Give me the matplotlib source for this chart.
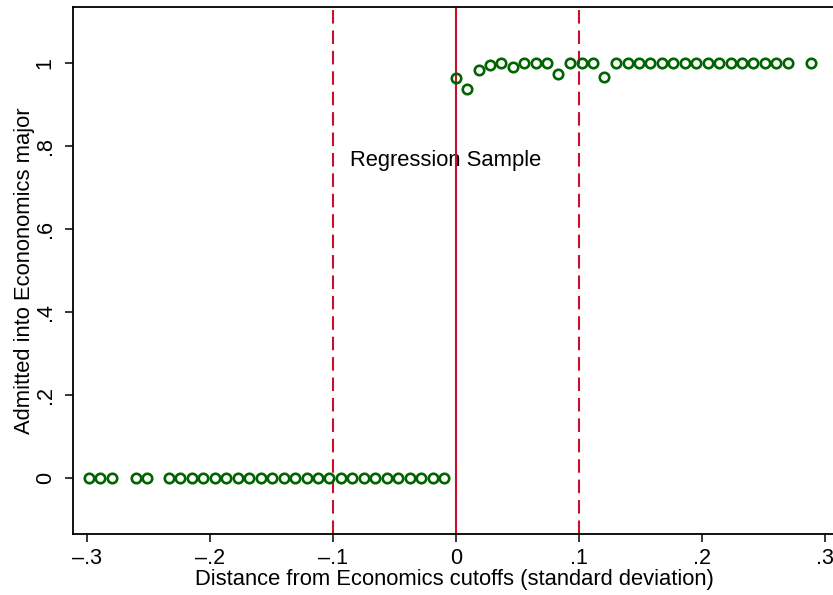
import numpy as np
import matplotlib
matplotlib.use('Agg')
import matplotlib.pyplot as plt
from matplotlib.ticker import FuncFormatter

plt.rcParams['font.family'] = ['Liberation Sans', 'DejaVu Sans']

# Binned means
x_left = [-0.2981, -0.2892, -0.2799, -0.2604, -0.2515, -0.2333, -0.2241, -0.2146,
          -0.2054, -0.1962, -0.1867, -0.1775, -0.1680, -0.1588, -0.1496, -0.1401,
          -0.1309, -0.1214, -0.1122, -0.1030, -0.0935, -0.0843, -0.0748, -0.0656,
          -0.0561, -0.0469, -0.0377, -0.0282, -0.0190, -0.0095]
y_left = [0.0] * len(x_left)

x_right = [0.0000, 0.0092, 0.0184, 0.0276, 0.0369, 0.0461, 0.0556, 0.0648,
           0.0740, 0.0832, 0.0927, 0.1022, 0.1114, 0.1206, 0.1303, 0.1396,
           0.1488, 0.1580, 0.1675, 0.1767, 0.1859, 0.1954, 0.2046, 0.2138,
           0.2233, 0.2325, 0.2417, 0.2512, 0.2604, 0.2697, 0.2884]
y_right = [0.965, 0.937, 0.983, 0.995, 1.0, 0.991, 1.0, 1.0,
           1.0, 0.974, 1.0, 1.0, 1.0, 0.967, 1.0, 1.0,
           1.0, 1.0, 1.0, 1.0, 1.0, 1.0, 1.0, 1.0,
           1.0, 1.0, 1.0, 1.0, 1.0, 1.0, 1.0]

cutoff = 0.0
bandwidth = [-0.1, 0.1]
x_ticks = [-0.3, -0.2, -0.1, 0.0, 0.1, 0.2, 0.3]
y_ticks = [0, 0.2, 0.4, 0.6, 0.8, 1.0]

green = '#006400'
red = '#C8102E'


def stata_fmt(v, pos):
    # Stata style: 0, .2, 1, –.3
    if abs(v) < 1e-9:
        return '0'
    if abs(v - round(v)) < 1e-9:
        return f'{int(round(v))}'
    s = f'{v:.1f}'.replace('0.', '.')
    return s.replace('-', '\u2013')


fig = plt.figure(figsize=(8.33, 5.95), dpi=100)
ax = fig.add_axes([73 / 833, 61 / 595, 762 / 833, 527 / 595])

ax.axvline(cutoff, color=red, lw=1.5, zorder=1)
for b in bandwidth:
    ax.axvline(b, color=red, lw=1.5, linestyle=(0, (6.5, 3.3)), zorder=1)

ax.text(-0.0862, 0.765, 'Regression Sample', fontsize=15.8, va='center', ha='left', zorder=0)

ax.plot(x_left + x_right, y_left + y_right, linestyle='none', marker='o',
        markersize=6.8, markerfacecolor='none', markeredgecolor=green,
        markeredgewidth=1.9, zorder=3, clip_on=False)

ax.set_xlim(-0.3114, 0.3081)
ax.set_ylim(-0.135, 1.135)
ax.set_xticks(x_ticks)
ax.set_yticks(y_ticks)
ax.xaxis.set_major_formatter(FuncFormatter(stata_fmt))
ax.yaxis.set_major_formatter(FuncFormatter(stata_fmt))
ax.tick_params(direction='out', length=6, width=1.1, labelsize=15.5)
ax.tick_params(axis='x', pad=4)
ax.tick_params(axis='y', pad=6.5)
for lab in ax.get_yticklabels():
    lab.set_rotation(90)
    lab.set_va('center')
for sp in ax.spines.values():
    sp.set_linewidth(1.3)

ax.set_xlabel('Distance from Economics cutoffs (standard deviation)', fontsize=15.8, labelpad=0)
ax.set_ylabel('Admitted into Econonomics major', fontsize=15.8, labelpad=-0.5)

fig.savefig('out.png', dpi=100)
